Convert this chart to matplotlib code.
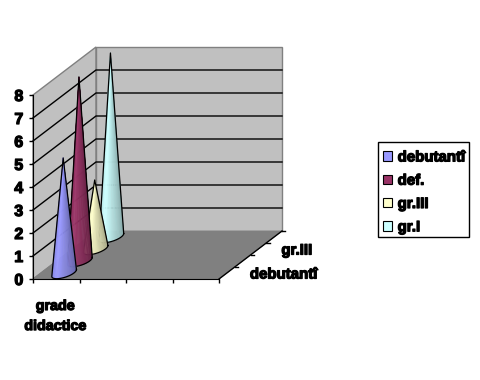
import numpy as np
import matplotlib
matplotlib.use("Agg")
import matplotlib.pyplot as plt
import matplotlib.patheffects as pe
from matplotlib.patches import Patch, Rectangle

plt.rcParams['font.family'] = ['Liberation Sans', 'DejaVu Sans']

# data
series_names = ["debutantî", "def.", "gr.III", "gr.I"]
values = [5, 8, 3, 8]
colors = ["#9999FF", "#993366", "#FFFFCC", "#CCFFFF"]
y_ticks = [0, 1, 2, 3, 4, 5, 6, 7, 8]
x_ticks = [0, 1, 2, 3, 4]
depth_labels = {0: "debutantî", 2: "gr.III"}

fig = plt.figure(figsize=(4.8, 3.8), dpi=100)
ax = fig.add_axes([33/480, (380-279)/380, 186/480, 184/380])
ax.set_xlim(0, 4)
ax.set_ylim(0, 8)
ax.patch.set_visible(False)

# one series step into the depth, in data units
dx = 15.75/46.5
dy = 12/23.0
n = len(series_names)

bold = [pe.withStroke(linewidth=0.9, foreground="black")]

# walls and floor
ax.fill([0, n*dx, n*dx, 0], [0, n*dy, 8+n*dy, 8], fc="#C0C0C0", ec="#808080", lw=1, clip_on=False, zorder=1)
ax.fill([n*dx, 4+n*dx, 4+n*dx, n*dx], [n*dy, n*dy, 8+n*dy, 8+n*dy], fc="#C0C0C0", ec="#808080", lw=1, clip_on=False, zorder=1)
ax.fill([0, 4, 4+n*dx, n*dx], [0, 0, n*dy, n*dy], fc="#808080", ec="#808080", lw=0.5, clip_on=False, zorder=2)

for v in y_ticks[1:-1]:
    ax.plot([0, n*dx, 4+n*dx], [v, v+n*dy, v+n*dy], color="black", lw=1, clip_on=False, zorder=3)

# depth axis
ax.plot([4, 4+n*dx], [0, n*dy], color="black", lw=1, clip_on=False, zorder=4)
for i in range(1, n+1):
    ax.plot([4+i*dx, 4+i*dx+0.07], [i*dy, i*dy], color="black", lw=1, clip_on=False, zorder=4)
for i, name in depth_labels.items():
    ax.annotate(name, xy=(4+(i+0.5)*dx, (i+0.5)*dy), xytext=(23*0.72, -1.5*0.72), textcoords="offset points",
                ha="left", va="center", fontsize=10.8, fontweight="bold", annotation_clip=False, path_effects=bold)


def shade(col, f):
    c = np.array(matplotlib.colors.to_rgb(col))
    if f > 1:
        return tuple(c + (1-c)*(f-1)*2)
    return tuple(c*f)


# cones, the back one first
rx = 9.8/46.5
vx = 7.5/46.5
vy = 5.7/23.0
t0 = np.arctan2(vx, rx)
for i in range(n-1, -1, -1):
    cx = 0.5 + (i+0.5)*dx
    cy = (i+0.5)*dy
    z = 10 + (n-i)*2
    t = np.linspace(t0, t0-np.pi, 40)
    bx = cx + rx*np.cos(t) + vx*np.sin(t)
    by = cy + vy*np.sin(t)
    apex = (cx-0.02, cy+values[i])
    for j in range(len(t)-1):
        p = j/(len(t)-2.0)
        # p=0 is the right edge: dark there, light a bit left of the middle
        col = shade(colors[i], np.interp(p, [0, 0.72, 1], [0.6, 1.03, 0.85]))
        ax.fill([bx[j], bx[j+1], apex[0]], [by[j], by[j+1], apex[1]], fc=col, ec=col, lw=0.3, clip_on=False, zorder=z)
    ax.plot(list(bx)+[apex[0], bx[0]], list(by)+[apex[1], by[0]], color="black", lw=0.9, clip_on=False, zorder=z+1)

# axes
for s in ["top", "right"]:
    ax.spines[s].set_visible(False)
for s in ["left", "bottom"]:
    ax.spines[s].set_zorder(5)
ax.set_yticks(y_ticks)
ax.set_xticks(x_ticks)
ax.set_xticklabels([])
ax.tick_params(length=3, width=1, pad=4)
for lab in ax.get_yticklabels():
    lab.set_fontsize(11.5)
    lab.set_fontweight("bold")
    lab.set_path_effects(bold)
ax.annotate("grade\ndidactice", xy=(0.5, 0), xytext=(-1*0.72, -20*0.72), textcoords="offset points", ha="center", va="top",
            fontsize=10.3, fontweight="bold", linespacing=1.55, annotation_clip=False, path_effects=bold)

# legend frame drawn apart, the rows sit lower in it than a normal legend allows
fig.add_artist(Rectangle((378/480, 1-237/380), 91/480, 95/380, transform=fig.transFigure,
                         fc="white", ec="black", lw=1))
handles = [Patch(fc=c, ec="black", lw=0.8) for c in colors]
leg = fig.legend(handles, series_names, loc="upper left", bbox_to_anchor=(378/480, 1-145/380), borderaxespad=0,
                 frameon=False, handlelength=0.6, handleheight=0.6, handletextpad=0.35, labelspacing=0.62, borderpad=0.36,
                 prop={"weight": "bold", "size": 10.8})
for txt in leg.get_texts():
    txt.set_path_effects(bold)

fig.savefig("out.png", dpi=100)
